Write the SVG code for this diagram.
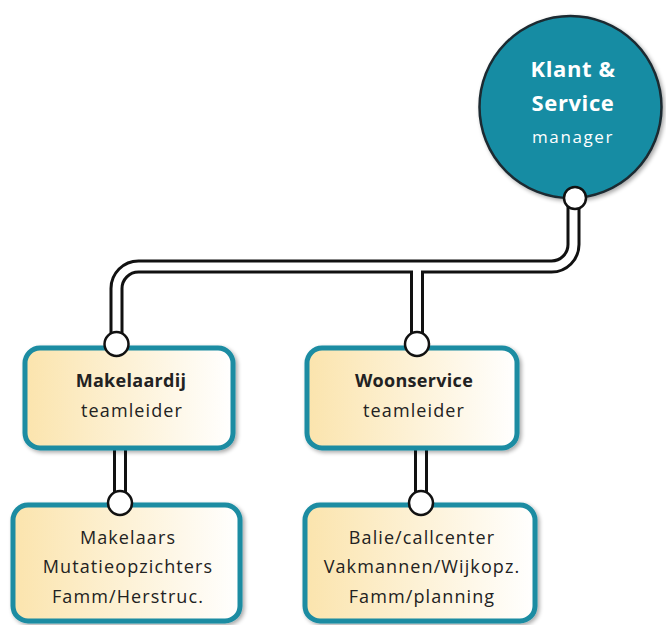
<svg xmlns="http://www.w3.org/2000/svg" width="666" height="625" viewBox="0 0 666 625">
<style>
.box{stroke:#1a8ca2;stroke-width:5;fill:url(#g)}
.pipeO{fill:none;stroke:#111;stroke-width:14}
.pipeI{fill:none;stroke:#fff;stroke-width:8}
.dot{fill:#fff;stroke:#111;stroke-width:2.5}
text{font-family:"Open Sans","Noto Sans",sans-serif;text-anchor:middle;fill:#222}
.t{font-size:18px;letter-spacing:1.1px}
.b{font-size:18px;font-weight:bold;letter-spacing:0.3px}
.w{fill:#fff}
</style>
<defs>
<linearGradient id="g" x1="0" y1="0" x2="1" y2="0">
<stop offset="0" stop-color="#fbe4ad"/>
<stop offset="1" stop-color="#ffffff"/>
</linearGradient>
<filter id="sh" x="-20%" y="-20%" width="140%" height="140%">
<feGaussianBlur in="SourceAlpha" stdDeviation="2"/>
<feOffset dx="2" dy="2" result="o"/>
<feComponentTransfer><feFuncA type="linear" slope="0.35"/></feComponentTransfer>
<feMerge><feMergeNode/><feMergeNode in="SourceGraphic"/></feMerge>
</filter>
</defs>
<g id="connectors">
<path class="pipeO" d="M573.5,198 V244.5 A22,22 0 0 1 551.5,266.5 H138.5 A22,22 0 0 0 116.5,288.5 V345"/>
<path class="pipeO" d="M417,266.5 V345"/>
<path class="pipeO" d="M120,448 V503"/>
<path class="pipeO" d="M421,448 V503"/>
<path class="pipeI" d="M573.5,198 V244.5 A22,22 0 0 1 551.5,266.5 H138.5 A22,22 0 0 0 116.5,288.5 V345"/>
<path class="pipeI" d="M417,266.5 V345"/>
<path class="pipeI" d="M120,448 V503"/>
<path class="pipeI" d="M421,448 V503"/>
</g>
<g id="manager">
<circle cx="570.5" cy="107" r="91" fill="#168ca3" stroke="#1c2a30" stroke-width="2.5" filter="url(#sh)"/>
<text class="w" x="573" y="77" style="font-size:22px;font-weight:bold;letter-spacing:0.6px">Klant &amp;</text>
<text class="w" x="573" y="111" style="font-size:22px;font-weight:bold;letter-spacing:0.6px">Service</text>
<text class="w" x="573" y="143" style="font-size:17px;letter-spacing:1.6px">manager</text>
</g>
<g id="makelaardij">
<rect class="box" x="25" y="348" width="208" height="100" rx="15" filter="url(#sh)"/>
<text class="b" x="131" y="387">Makelaardij</text>
<text class="t" x="132" y="417">teamleider</text>
</g>
<g id="woonservice">
<rect class="box" x="307" y="348" width="210" height="100" rx="15" filter="url(#sh)"/>
<text class="b" x="414" y="387">Woonservice</text>
<text class="t" x="414" y="417">teamleider</text>
</g>
<g id="makelaars">
<rect class="box" x="13" y="505" width="227" height="116" rx="15" filter="url(#sh)"/>
<text class="t" x="128" y="544">Makelaars</text>
<text class="t" x="128" y="573">Mutatieopzichters</text>
<text class="t" x="128" y="603">Famm/Herstruc.</text>
</g>
<g id="balie">
<rect class="box" x="305" y="505" width="230" height="116" rx="15" filter="url(#sh)"/>
<text class="t" x="422" y="544">Balie/callcenter</text>
<text class="t" x="422" y="573">Vakmannen/Wijkopz.</text>
<text class="t" x="422" y="603">Famm/planning</text>
</g>
<g id="joints">
<circle class="dot" cx="575" cy="198" r="11"/>
<circle class="dot" cx="116.5" cy="344" r="12"/>
<circle class="dot" cx="417" cy="344" r="12"/>
<circle class="dot" cx="120" cy="503" r="12"/>
<circle class="dot" cx="421" cy="503" r="12"/>
</g>
</svg>
